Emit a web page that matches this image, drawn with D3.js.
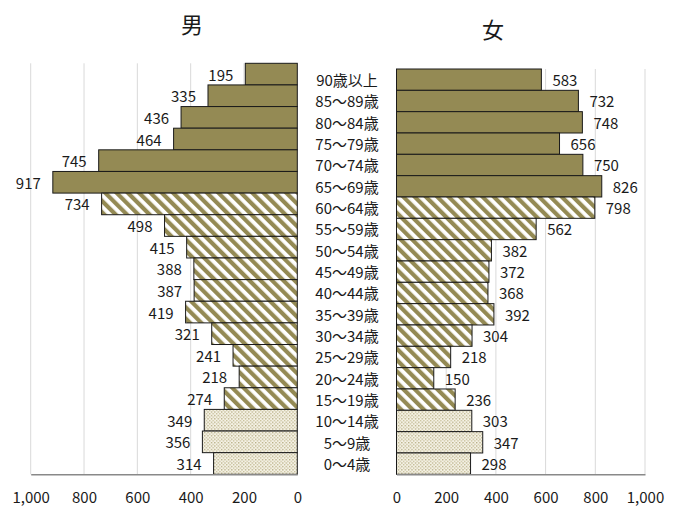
<!DOCTYPE html>
<html><head><meta charset="utf-8">
<script src="https://cdn.jsdelivr.net/npm/d3@7"></script>
<style>
html,body{margin:0;padding:0;background:#fff;}
svg text{font-family:"Noto Sans CJK JP","Noto Sans",sans-serif;fill:#1a1a1a;}
</style></head>
<body><svg id="chart" width="680" height="506"></svg>
<script>
const categories = ["90歳以上","85～89歳","80～84歳","75～79歳","70～74歳","65～69歳","60～64歳","55～59歳","50～54歳","45～49歳","40～44歳","35～39歳","30～34歳","25～29歳","20～24歳","15～19歳","10～14歳","5～9歳","0～4歳"];
const male   = [195,335,436,464,745,917,734,498,415,388,387,419,321,241,218,274,349,356,314];
const female = [583,732,748,656,750,826,798,562,382,372,368,392,304,218,150,236,303,347,298];
// fill group per age band: 65+ solid, 15-64 stripes, 0-14 dots
const groups = ["solid","solid","solid","solid","solid","solid","stripe","stripe","stripe","stripe","stripe","stripe","stripe","stripe","stripe","stripe","dots","dots","dots"];
const ticks = [0,200,400,600,800,1000];
const titles = ["男","女"];

const svg = d3.select("#chart");
const olive = "#948A54";
const defs = svg.append("defs");
const st = defs.append("pattern").attr("id","stripe").attr("patternUnits","userSpaceOnUse")
  .attr("width",8).attr("height",8).attr("patternTransform","rotate(-45)");
st.append("rect").attr("width",8).attr("height",8).attr("fill","#fff");
st.append("rect").attr("width",4.2).attr("height",8).attr("fill",olive);
const dp = defs.append("pattern").attr("id","dots").attr("patternUnits","userSpaceOnUse")
  .attr("width",3.4).attr("height",3.4);
dp.append("rect").attr("width",3.4).attr("height",3.4).attr("fill","#f5f2e6");
dp.append("rect").attr("x",0).attr("y",0).attr("width",1.3).attr("height",1.3).attr("fill","#b3aa7e");
dp.append("rect").attr("x",1.7).attr("y",1.7).attr("width",1.3).attr("height",1.3).attr("fill","#c4bc94");
const fillOf = g => g==="solid" ? olive : (g==="stripe" ? "url(#stripe)" : "url(#dots)");

const xM = d3.scaleLinear().domain([0,1000]).range([297.3,30.7]);
const xF = d3.scaleLinear().domain([0,1000]).range([396.5,645]);
const yM = d3.scaleBand().domain(categories).range([63.3,474.3]).padding(0);
const yF = d3.scaleBand().domain(categories).range([69,474.3]).padding(0);
const fmt = d3.format(",");

function panel(x, y, vals, side){
  const g = svg.append("g");
  g.selectAll("line.grid").data(ticks.filter(t=>t>0)).join("line")
    .attr("x1",d=>x(d)).attr("x2",d=>x(d))
    .attr("y1",y.range()[0]).attr("y2",y.range()[1])
    .attr("stroke","#d9d9d9").attr("stroke-width",1);
  g.selectAll("rect.bar").data(categories).join("rect")
    .attr("x",(d,i)=>Math.min(x(0),x(vals[i])))
    .attr("width",(d,i)=>Math.abs(x(vals[i])-x(0)))
    .attr("y",d=>y(d)).attr("height",y.bandwidth())
    .attr("fill",(d,i)=>fillOf(groups[i]))
    .attr("stroke","#1a1a1a").attr("stroke-width",1);
  g.selectAll("text.val").data(categories).join("text")
    .attr("x",(d,i)=> side==="L" ? x(vals[i])-12 : x(vals[i])+11)
    .attr("y",d=>y(d)+y.bandwidth()/2)
    .attr("text-anchor", side==="L" ? "end" : "start")
    .attr("dominant-baseline","central")
    .style("font-size","15px")
    .text((d,i)=>fmt(vals[i]));
  const axis = d3.axisBottom(x).tickValues(ticks).tickFormat(fmt).tickSize(0).tickPadding(0);
  const ag = g.append("g").attr("transform","translate(0,474.3)").call(axis);
  ag.select(".domain").attr("stroke","#898989").attr("stroke-width",1.5);
  ag.selectAll("text").attr("y",22).attr("dy",null).attr("dominant-baseline","central")
    .style("font-size","15px").style("font-family",'"Noto Sans CJK JP","Noto Sans",sans-serif').attr("fill","#1a1a1a");
}
panel(xM, yM, male, "L");
panel(xF, yF, female, "R");

svg.append("g").selectAll("text").data(categories).join("text")
  .attr("x",347).attr("y",d=>yF(d)+yF.bandwidth()/2)
  .attr("text-anchor","middle").attr("dominant-baseline","central")
  .style("font-size","15px").text(d=>d);

svg.append("text").attr("x",192).attr("y",22.5).attr("text-anchor","middle")
  .attr("dominant-baseline","central").style("font-size","22px").text(titles[0]);
svg.append("text").attr("x",493).attr("y",27.5).attr("text-anchor","middle")
  .attr("dominant-baseline","central").style("font-size","22px").text(titles[1]);
</script></body></html>
